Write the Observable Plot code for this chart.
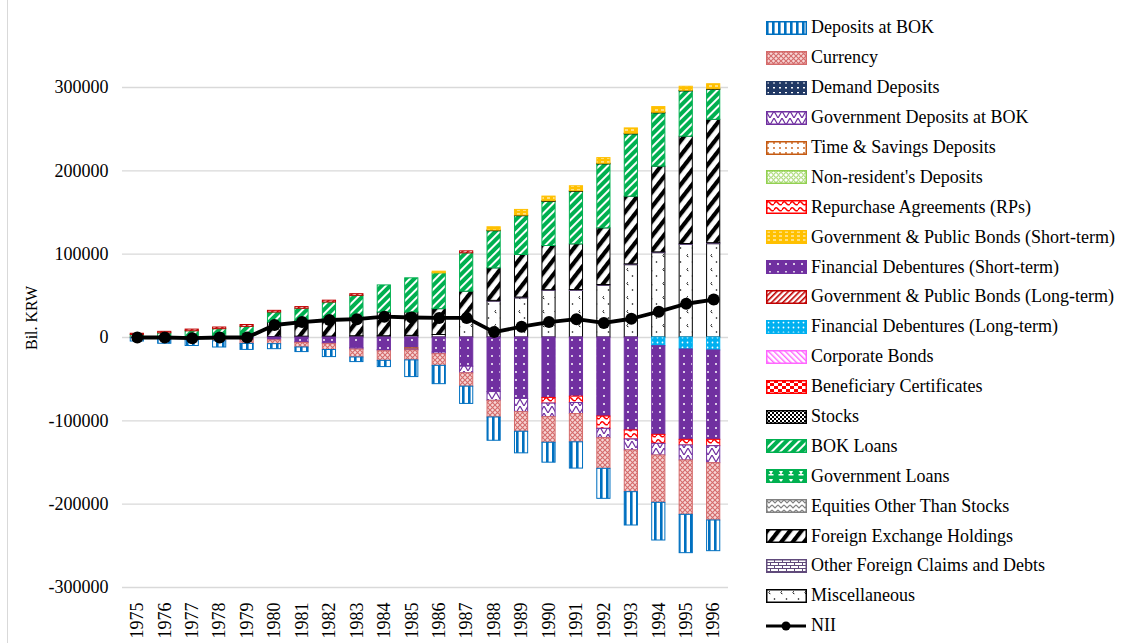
<!DOCTYPE html>
<html>
<head>
<meta charset="utf-8">
<script src="https://cdn.jsdelivr.net/npm/d3@7"></script>
<script src="https://cdn.jsdelivr.net/npm/@observablehq/plot@0.6"></script>
<style>
  html, body { margin: 0; padding: 0; background: #fff; }
  #wrap { position: relative; width: 1134px; height: 643px; overflow: hidden; font-family: "Liberation Serif", "Times New Roman", serif; }
  #chart { position: absolute; left: 0; top: 0; }
  #ylabel { position: absolute; left: 32px; top: 318px; transform: translate(-50%, -50%) rotate(-90deg); font-size: 16px; white-space: nowrap; color: #000; }
  #border { position: absolute; left: 7px; top: 0; width: 1px; height: 643px; background: #D9D9D9; }
  #legend { position: absolute; left: 766px; top: 13px; }
  .li { height: 29.9px; display: flex; align-items: center; font-size: 18px; white-space: nowrap; color: #000; }
  .li svg { margin-right: 4px; flex: none; }
</style>
</head>
<body>
<svg width="0" height="0" style="position:absolute">
  <defs>
    <pattern id="p-depBOK" patternUnits="userSpaceOnUse" width="6" height="6"><rect width="6" height="6" fill="#fff"/><rect width="2.6" height="6" fill="#0070C0"/></pattern>
    <pattern id="p-currency" patternUnits="userSpaceOnUse" width="5" height="5"><rect width="5" height="5" fill="#F7D6D6"/><path d="M0,0L5,5M5,0L0,5" stroke="#D46A6A" stroke-width="1.1"/></pattern>
    <pattern id="p-demand" patternUnits="userSpaceOnUse" width="6" height="5"><rect width="6" height="5" fill="#203864"/><rect x="1" y="1" width="2" height="1.5" fill="#fff"/></pattern>
    <pattern id="p-govDep" patternUnits="userSpaceOnUse" width="8" height="7"><rect width="8" height="7" fill="#fff"/><path d="M0,0L4,7L8,0" fill="none" stroke="#7030A0" stroke-width="1.2"/></pattern>
    <pattern id="p-timeSav" patternUnits="userSpaceOnUse" width="6" height="5"><rect width="6" height="5" fill="#fff"/><circle cx="2" cy="2" r="0.9" fill="#C55A11"/></pattern>
    <pattern id="p-nonRes" patternUnits="userSpaceOnUse" width="5" height="5"><rect width="5" height="5" fill="#fff"/><circle cx="2.5" cy="2.5" r="1.8" fill="none" stroke="#92D050" stroke-width="1"/></pattern>
    <pattern id="p-rps" patternUnits="userSpaceOnUse" width="8" height="6"><rect width="8" height="6" fill="#fff"/><path d="M0,4Q2,0 4,3T8,4" fill="none" stroke="#FF0000" stroke-width="1.4"/></pattern>
    <pattern id="p-gbShort" patternUnits="userSpaceOnUse" width="6" height="4"><rect width="6" height="4" fill="#FFC000"/><rect x="1" y="1.5" width="3" height="1" fill="#fff"/></pattern>
    <pattern id="p-fdShort" patternUnits="userSpaceOnUse" width="8" height="8"><rect width="8" height="8" fill="#7030A0"/><circle cx="4" cy="4" r="1" fill="#fff"/></pattern>
    <pattern id="p-gbLong" patternUnits="userSpaceOnUse" width="4" height="4" patternTransform="rotate(45)"><rect width="4" height="4" fill="#fff"/><rect width="1.6" height="4" fill="#C00000"/></pattern>
    <pattern id="p-fdLong" patternUnits="userSpaceOnUse" width="5" height="5"><rect width="5" height="5" fill="#00B0F0"/><circle cx="2.5" cy="2.5" r="0.9" fill="#fff"/></pattern>
    <pattern id="p-corp" patternUnits="userSpaceOnUse" width="4" height="4" patternTransform="rotate(-45)"><rect width="4" height="4" fill="#fff"/><rect width="1.4" height="4" fill="#FF66FF"/></pattern>
    <pattern id="p-benef" patternUnits="userSpaceOnUse" width="8" height="6"><rect width="8" height="6" fill="#fff"/><rect width="4" height="3" fill="#FF0000"/><rect x="4" y="3" width="4" height="3" fill="#FF0000"/></pattern>
    <pattern id="p-stocks" patternUnits="userSpaceOnUse" width="4" height="4"><rect width="4" height="4" fill="#fff"/><rect width="2" height="2" fill="#000"/><rect x="2" y="2" width="2" height="2" fill="#000"/></pattern>
    <pattern id="p-bokLoans" patternUnits="userSpaceOnUse" width="6" height="6" patternTransform="rotate(45)"><rect width="6" height="6" fill="#00B050"/><rect width="2" height="6" fill="#fff"/></pattern>
    <pattern id="p-govLoans" patternUnits="userSpaceOnUse" width="10" height="8"><rect width="10" height="8" fill="#00B050"/><path d="M3,2h4l-1.5,3h2v1.5h-5v-1.5h2z" fill="#fff"/></pattern>
    <pattern id="p-equities" patternUnits="userSpaceOnUse" width="6" height="5"><rect width="6" height="5" fill="#fff"/><path d="M0,1L3,4L6,1" fill="none" stroke="#808080" stroke-width="1.2"/></pattern>
    <pattern id="p-fx" patternUnits="userSpaceOnUse" width="9" height="9" patternTransform="rotate(38)"><rect width="9" height="9" fill="#fff"/><rect width="4.2" height="9" fill="#000"/></pattern>
    <pattern id="p-otherFor" patternUnits="userSpaceOnUse" width="8" height="6"><rect width="8" height="6" fill="#fff"/><path d="M0,0.5H8M0,3.5H8M0.5,0V3.5M4.5,3.5V6" stroke="#604A7B" stroke-width="1"/></pattern>
    <pattern id="p-misc" patternUnits="userSpaceOnUse" width="12" height="14"><rect width="12" height="14" fill="#fff"/><path d="M2.5,3.5l1.5,-1.2M3,4.2l1.4,0.6" stroke="#000" stroke-width="0.9" fill="none"/><circle cx="8.5" cy="10" r="0.8" fill="#000"/></pattern>
  </defs>
</svg>
<div id="wrap">
  <div id="border"></div>
  <div id="chart"></div>
  <div id="ylabel">Bil. KRW</div>
  <div id="legend"></div>
</div>
<script>
// ---------- data (Bil. KRW) ----------
const years = ["1975","1976","1977","1978","1979","1980","1981","1982","1983","1984","1985","1986","1987","1988","1989","1990","1991","1992","1993","1994","1995","1996"];
const yTicks = [-300000, -200000, -100000, 0, 100000, 200000, 300000];

const depositsAtBOK     = [-4000,-5500,-7000,-7500,-7200,-6000,-5500,-8500,-5500,-7500,-20000,-22000,-20700,-27900,-25900,-23900,-31500,-36000,-40000,-45200,-46000,-36800];
const currency          = [-800,-2000,-3200,-4500,-5200,-4500,-5500,-7000,-9500,-11500,-12000,-14000,-16000,-20000,-23500,-30700,-34000,-36800,-50000,-56800,-65200,-68800];
const demandDeposits    = [0,0,0,0,0,0,0,0,0,0,0,0,0,0,0,0,0,0,0,0,0,0];
const govDepositsAtBOK  = [0,0,0,0,0,0,-500,-1000,-1500,-1500,-1000,-2000,-8000,-10500,-15900,-16300,-13200,-11200,-13200,-14000,-18000,-20400];
const timeSavings       = [0,0,0,0,0,0,0,0,0,0,-1500,0,0,0,0,0,0,0,0,0,0,0];
const nonResident       = [0,0,0,0,0,0,0,0,0,0,0,0,0,0,0,0,0,0,0,0,0,0];
const repurchase        = [0,0,0,0,0,0,0,0,0,0,0,0,0,0,0,-6800,-7600,-14800,-10800,-10800,-6800,-7600];
const govBondsShort     = [0,0,0,0,0,0,0,0,0,0,0,2000,0,4000,6800,5600,6000,6800,6400,6800,4800,6000];
const finDebShort       = [0,0,0,0,-2500,-3500,-6000,-7000,-13000,-15000,-13000,-18000,-35000,-65500,-73700,-72500,-71000,-94800,-111600,-106400,-108400,-107200];
const govBondsLong      = [1500,1800,2000,2000,2200,2000,2000,2200,2000,0,0,0,2400,0,0,0,0,0,0,0,0,0];
const finDebLong        = [0,0,0,0,0,0,0,0,0,0,0,0,0,0,0,0,0,0,0,-10400,-14400,-15600];
const corporateBonds    = [0,0,0,0,0,0,0,0,0,0,0,0,0,0,0,0,0,0,0,0,0,0];
const beneficiaryCert   = [0,0,0,0,0,0,0,0,0,0,0,0,0,0,0,0,0,0,0,0,0,0];
const stocks            = [0,0,0,0,0,0,0,0,0,0,0,0,0,700,700,700,700,700,700,700,700,700];
const bokLoans          = [3000,5000,7500,10000,12800,12000,14500,20000,26000,32500,41000,43000,46000,44600,46600,53000,63000,76800,74800,64000,54400,36000];
const govLoans          = [0,0,0,0,0,0,0,0,0,0,0,0,0,0,0,0,0,0,0,0,0,0];
const equities          = [0,0,0,0,0,0,0,0,0,0,0,0,0,0,0,0,0,0,0,0,0,0];
const foreignExchange   = [0,0,0,0,0,17500,19000,21000,22500,28500,28000,31000,33000,39000,51000,53000,54800,68000,81200,102800,128800,148000];
const otherForeign      = [0,0,0,0,0,0,0,0,0,0,0,0,0,1000,1000,1000,1000,1000,1000,1000,1200,1200];
const miscellaneous     = [0,0,0,0,0,500,1000,1000,1500,1500,2000,3000,22000,43000,47000,55800,56000,62000,86800,101200,111000,112000];
const nii               = [0,0,-800,0,0,15000,18500,21000,22000,25000,24000,23500,23500,6500,13000,18500,22000,17500,22500,31000,40500,45500];

// legend order (as in the reference)
const seriesNames = ["Deposits at BOK","Currency","Demand Deposits","Government Deposits at BOK","Time & Savings Deposits","Non-resident's Deposits","Repurchase Agreements (RPs)","Government & Public Bonds (Short-term)","Financial Debentures  (Short-term)","Government & Public Bonds (Long-term)","Financial Debentures (Long-term)","Corporate Bonds","Beneficiary Certificates","Stocks","BOK Loans","Government Loans","Equities Other Than Stocks","Foreign Exchange Holdings","Other Foreign Claims and Debts","Miscellaneous"];
const seriesValues = [depositsAtBOK,currency,demandDeposits,govDepositsAtBOK,timeSavings,nonResident,repurchase,govBondsShort,finDebShort,govBondsLong,finDebLong,corporateBonds,beneficiaryCert,stocks,bokLoans,govLoans,equities,foreignExchange,otherForeign,miscellaneous];

// styles (pattern id + outline colour), same order
const seriesStyle = [
  ["depBOK","#0070C0"],["currency","#D46A6A"],["demand","#203864"],["govDep","#7030A0"],["timeSav","#C55A11"],
  ["nonRes","#92D050"],["rps","#FF0000"],["gbShort","#FFC000"],["fdShort","#7030A0"],["gbLong","#C00000"],
  ["fdLong","#00B0F0"],["corp","#FF66FF"],["benef","#FF0000"],["stocks","#000000"],["bokLoans","#00B050"],
  ["govLoans","#00B050"],["equities","#808080"],["fx","#000000"],["otherFor","#604A7B"],["misc","#000000"]
];

// tidy rows: stacking from zero outward = reverse legend order
const rows = [];
for (let s = seriesNames.length - 1; s >= 0; s--) {
  years.forEach((yr, i) => {
    const v = seriesValues[s][i];
    if (v !== 0) rows.push({year: yr, value: v, s});
  });
}
const niiRows = years.map((yr, i) => ({year: yr, value: nii[i]}));

const chart = Plot.plot({
  width: 740,
  height: 643,
  marginLeft: 122,
  marginRight: 12,
  marginTop: 87,
  marginBottom: 56,
  style: {fontFamily: "'Liberation Serif', 'Times New Roman', serif", fontSize: "18px", color: "#000", background: "transparent"},
  x: {type: "band", domain: years, round: false, paddingInner: 0.52, paddingOuter: 0.3, tickRotate: -90, tickSize: 0, tickPadding: 15, label: null},
  y: {domain: [-300000, 300000], ticks: yTicks, tickSize: 0, tickPadding: 14, tickFormat: d => String(d), label: null},
  color: {type: "identity"},
  marks: [
    Plot.ruleY(yTicks, {stroke: "#D9D9D9", strokeWidth: 1.3}),
    Plot.barY(rows, {
      x: "year", y: "value", z: "s",
      fill: d => `url(#p-${seriesStyle[d.s][0]})`,
      stroke: d => seriesStyle[d.s][1],
      strokeWidth: 1
    }),
    Plot.line(niiRows, {x: "year", y: "value", stroke: "#000", strokeWidth: 3.8}),
    Plot.dot(niiRows, {x: "year", y: "value", r: 6, fill: "#000"})
  ]
});
document.getElementById("chart").appendChild(chart);

// legend
const legend = document.getElementById("legend");
seriesNames.forEach((name, i) => {
  const [pid, col] = seriesStyle[i];
  const row = document.createElement("div");
  row.className = "li";
  row.innerHTML = `<svg width="41" height="14"><rect x="0.75" y="0.75" width="39.5" height="12.5" fill="url(#p-${pid})" stroke="${col}" stroke-width="1.5"/></svg><span></span>`;
  row.querySelector("span").textContent = name;
  legend.appendChild(row);
});
const nrow = document.createElement("div");
nrow.className = "li";
nrow.innerHTML = `<svg width="41" height="14"><line x1="0" y1="7" x2="40" y2="7" stroke="#000" stroke-width="3"/><circle cx="20" cy="7" r="4.5" fill="#000"/></svg><span>NII</span>`;
legend.appendChild(nrow);
</script>
</body>
</html>
